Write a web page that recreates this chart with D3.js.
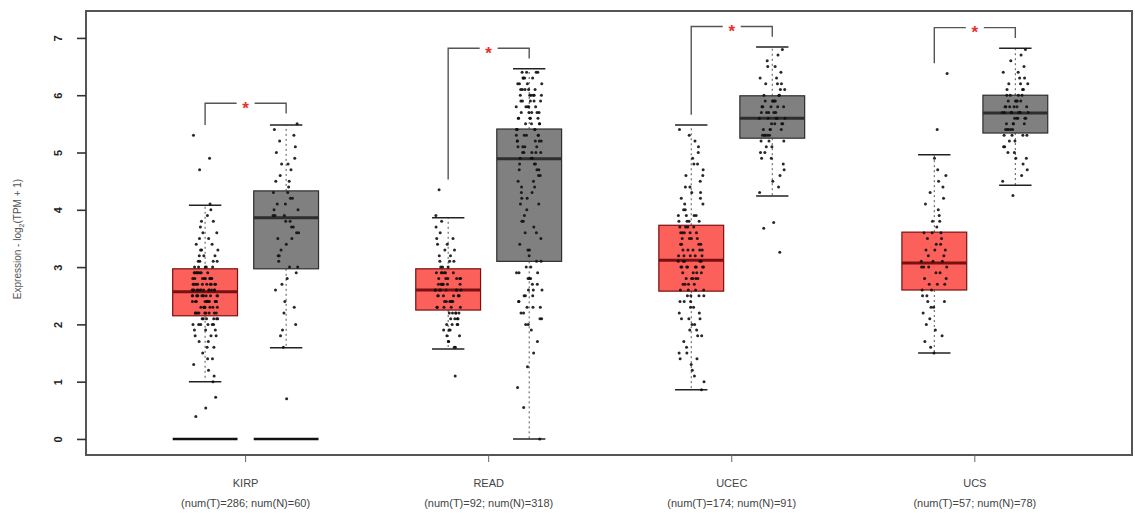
<!DOCTYPE html>
<html>
<head>
<meta charset="utf-8">
<title>expression boxplot</title>
<script src="https://cdn.jsdelivr.net/npm/d3@7"></script>
<style>
body{margin:0;background:#fff;}
text{font-family:"Liberation Sans",Arial,sans-serif;}
</style>
</head>
<body>
<script>
// cancer types and sample sizes
var cancers = ["KIRP","READ","UCEC","UCS"];
var numT = [286,92,174,57];
var numN = [60,318,91,78];
var yTicks = [0,1,2,3,4,5,6,7];
var sigMarks = ["*","*","*","*"];

// box stats: [lower whisker, Q1, median, Q3, upper whisker]
var tumorStats = [[1.0,2.15,2.57,2.97,4.08],[1.57,2.25,2.6,2.97,3.86],[0.86,2.58,3.12,3.73,5.48],[1.5,2.6,3.07,3.61,4.96]];
var normalStats = [[1.59,2.97,3.86,4.33,5.48],[0,3.1,4.89,5.41,6.46],[4.24,5.25,5.6,5.99,6.84],[4.43,5.34,5.69,6.0,6.82]];

// samples with zero expression (drawn as a floor strip)
var zeroT = [30,0,0,0];
var zeroN = [8,0,0,0];

// jittered samples (approx)
var kirpT = [2.6,2.4,3.1,2.2,2.8,1.9,2.5,3.3,2.1,2.7,2.9,2.3,3.6,2.0,2.6,1.7,2.4,3.0,2.2,2.8,3.8,2.5,1.4,2.7,2.1,3.2,2.6,2.3,2.9,1.8,2.5,3.4,2.0,2.7,2.4,1.2,3.0,2.6,2.2,2.8,4.0,2.3,2.5,1.6,2.9,3.1,2.1,2.6,2.4,3.5,2.7,1.9,2.2,2.8,2.5,3.3,2.0,2.6,1.1,2.3,2.9,2.7,3.7,2.4,2.1,2.5,3.0,1.5,2.8,2.6,2.2,3.2,2.4,1.8,2.7,2.9,2.3,3.9,2.5,2.0,2.6,1.3,2.8,3.1,2.4,2.2,2.7,3.4,2.1,2.5,1.7,2.9,2.6,2.3,3.0,2.8,2.0,3.6,2.4,2.6,1.0,2.5,2.7,2.2,3.2,1.9,2.8,2.4,2.6,3.3,2.1,2.9,2.5,1.6,2.3,2.7,4.1,2.6,2.2,3.0,2.4,1.4,2.8,2.5,3.5,2.0,2.7,2.3,2.9,1.8,2.6,3.1,2.4,2.2,3.8,2.5,5.3,4.9,4.7,0.73,0.54,0.39];
var kirpN = [3.9,4.5,3.2,5.1,4.1,2.6,3.7,4.8,3.0,4.3,3.5,5.3,2.2,4.0,3.8,4.6,2.9,3.4,5.0,4.2,1.9,3.6,4.4,3.1,4.9,2.4,3.9,4.7,3.3,5.5,2.8,4.1,3.7,1.6,4.3,3.0,5.2,2.0,3.8,4.5,3.5,2.7,4.0,4.8,3.2,2.3,3.9,5.4,4.2,1.8,3.6,0.7];
var readT = [2.6,2.3,2.9,2.1,2.7,3.4,2.5,1.9,2.8,2.4,3.1,2.2,2.6,3.7,2.0,2.9,2.5,1.7,2.7,3.3,2.4,2.8,2.1,3.0,2.6,1.8,2.3,3.5,2.7,2.5,2.2,3.2,1.6,2.9,2.6,2.4,3.8,2.0,2.8,2.5,3.1,2.3,2.7,1.9,3.6,2.6,2.4,2.9,2.2,3.0,2.5,1.7,2.8,2.1,3.3,2.6,2.4,2.7,2.0,3.4,2.3,2.9,2.5,1.8,3.1,2.6,2.2,2.8,3.9,2.4,2.7,2.1,3.0,2.5,1.6,2.9,2.3,3.2,2.6,2.8,2.0,3.5,2.4,2.7,2.2,1.9,4.35,1.1];
var readN = [5.8,4.9,6.1,5.3,2.6,5.6,4.4,6.3,5.0,3.0,5.9,4.7,2.3,5.4,6.0,3.8,5.2,2.8,6.2,4.8,5.5,2.1,5.7,4.2,6.4,3.3,5.1,5.9,2.5,4.6,5.6,6.0,3.6,5.3,2.9,6.3,5.0,4.1,5.8,2.4,5.4,6.1,3.1,4.9,5.7,2.7,6.2,5.2,4.5,2.2,5.5,6.0,3.4,5.0,5.8,2.6,4.3,6.4,5.3,2.0,5.6,4.8,3.9,5.9,2.8,6.1,5.1,4.0,5.4,2.3,6.3,5.7,3.2,4.7,5.2,2.5,6.0,5.5,4.4,2.9,5.8,6.2,3.7,5.0,2.1,5.6,4.9,6.4,3.0,5.3,2.7,5.9,4.6,6.1,2.4,5.4,5.1,3.5,6.0,2.2,5.7,4.2,5.2,2.6,6.3,5.5,3.3,4.8,5.8,2.0,6.2,5.0,3.8,5.6,2.8,4.5,6.0,5.3,2.3,5.9,4.1,3.1,6.4,5.4,2.5,5.1,4.7,5.7,2.9,6.1,3.6,5.2,1.9,4.3,1.7,1.26,0.9,1.5,0.55,0];
var ucecT = [3.1,2.7,3.6,4.2,2.3,3.4,1.9,3.0,4.6,2.8,3.3,2.5,3.8,1.5,3.2,4.0,2.9,3.5,2.1,4.8,3.0,2.6,3.7,1.7,3.1,4.4,2.4,3.9,2.8,3.3,1.2,3.6,5.1,2.7,3.2,2.0,4.1,3.4,2.5,3.0,1.4,3.8,4.7,2.9,3.1,2.2,3.5,5.4,2.6,3.7,1.8,4.3,3.0,2.8,3.3,1.0,3.9,2.4,4.5,3.2,2.6,3.6,1.6,3.0,4.9,2.9,3.4,2.1,3.8,5.2,2.7,3.1,1.3,4.2,3.5,2.5,3.0,2.3,4.0,3.3,1.9,3.7,2.8,4.6,3.2,2.0,3.5,5.0,2.6,3.9,1.1,3.1,4.3,2.4,3.6,2.9,1.5,4.1,3.3,2.7,3.8,5.3,2.2,3.0,4.4,0.86,2.8,3.4,1.8,3.7,2.5,4.8,3.2,2.1,3.6,1.4,3.0,3.9];
var ucecN = [5.6,5.9,5.3,6.2,5.5,4.9,5.8,6.5,5.2,5.7,6.0,4.6,5.4,6.3,5.6,5.1,6.8,5.9,5.3,4.4,5.7,6.1,5.5,5.0,6.4,5.8,5.2,5.6,6.6,4.8,5.9,5.4,6.0,5.3,4.3,5.7,6.2,5.5,5.1,5.8,6.7,5.6,4.7,5.9,5.3,6.1,5.4,5.0,6.3,5.7,5.5,4.5,5.8,6.0,5.2,5.6,6.5,5.9,5.4,4.9,5.7,6.2,5.3,5.8,3.78,3.68,3.26];
var ucsT = [3.1,2.7,3.5,4.2,2.3,3.0,3.8,2.1,4.6,2.9,3.3,1.8,3.6,2.6,4.0,3.2,2.4,4.9,2.8,3.4,1.6,3.0,3.7,2.5,4.4,3.1,2.2,3.9,2.7,3.3,1.9,4.1,3.5,2.6,3.0,4.7,2.4,3.2,1.5,3.6,2.9,4.3,2.8,3.4,2.0,3.1,3.8,2.5,4.5,3.0,2.7,3.3,1.7,3.6,2.3,6.38,5.4];
var ucsN = [5.7,6.0,5.4,6.3,5.6,5.1,5.9,6.6,5.3,5.8,6.1,4.8,5.5,6.4,5.7,5.2,6.8,5.9,5.4,4.6,5.7,6.2,5.6,5.0,6.5,5.8,5.3,5.7,6.0,4.9,5.9,5.5,6.1,5.4,4.5,5.7,6.2,5.6,5.2,5.8,6.7,5.7,4.7,5.9,5.4,6.1,5.5,5.1,6.3,5.8,5.6,4.9,5.8,6.0,5.3,5.7,6.4,5.9,5.5,5.0,5.7,6.2,5.4,5.8,5.6,6.0,5.3,4.25];

var tumorPts = [kirpT, readT, ucecT, ucsT];
var normalPts = [kirpN, readN, ucecN, ucsN];

var width = 1135, height = 513;
var mLeft = 86, mRight = 1132, mTop = 11, mBottom = 455;
var tumorFill = "#fb605b", tumorLine = "#7a1010";
var normalFill = "#808080", normalLine = "#2e2e2e";

var x = d3.scaleLinear().domain([-0.47, 12.44]).range([mLeft, mRight]);
var y = d3.scaleLinear().domain([-0.28, 7.47]).range([mBottom, mTop]);
var boxW = x(0.8) - x(0);

var svg = d3.select("body").append("svg")
	.attr("width", width)
	.attr("height", height);

// build the 8 boxes
var boxes = [];
cancers.forEach(function(c, g){
	boxes.push({pos: 1 + 3*g, s: tumorStats[g], pts: tumorPts[g], zeros: zeroT[g], fill: tumorFill, line: tumorLine});
	boxes.push({pos: 2 + 3*g, s: normalStats[g], pts: normalPts[g], zeros: zeroN[g], fill: normalFill, line: normalLine});
});

var gb = svg.append("g");
boxes.forEach(function(b){
	var cx = x(b.pos);
	// whiskers
	gb.append("line").attr("x1",cx).attr("x2",cx).attr("y1",y(b.s[3])).attr("y2",y(b.s[4]))
		.attr("stroke","#555").attr("stroke-width",1).attr("stroke-dasharray","2,3");
	gb.append("line").attr("x1",cx).attr("x2",cx).attr("y1",y(b.s[1])).attr("y2",y(b.s[0]))
		.attr("stroke","#555").attr("stroke-width",1).attr("stroke-dasharray","2,3");
	[b.s[0], b.s[4]].forEach(function(v){
		gb.append("line").attr("x1",cx-boxW/4).attr("x2",cx+boxW/4).attr("y1",y(v)).attr("y2",y(v))
			.attr("stroke","#222").attr("stroke-width",1.5);
	});
	gb.append("rect")
		.attr("x",cx-boxW/2).attr("width",boxW)
		.attr("y",y(b.s[3])).attr("height",y(b.s[1])-y(b.s[3]))
		.attr("fill",b.fill).attr("stroke",b.line).attr("stroke-width",1.2);
	gb.append("line").attr("x1",cx-boxW/2).attr("x2",cx+boxW/2).attr("y1",y(b.s[2])).attr("y2",y(b.s[2]))
		.attr("stroke",b.line).attr("stroke-width",3);
	// zero samples pile up into a strip
	if(b.zeros > 0){
		gb.append("line").attr("x1",cx-boxW/2).attr("x2",cx+boxW/2).attr("y1",y(0)).attr("y2",y(0))
			.attr("stroke","#111").attr("stroke-width",2.6);
	}
	gb.selectAll(null)
		.data(b.pts)
		.enter()
		.append("circle")
		.attr("cx",function(d,i){ return cx + (((i*0.618034) % 1) - 0.5)*26; })
		.attr("cy",function(d){ return y(d); })
		.attr("r",1.5)
		.attr("fill","#111")
		.attr("fill-opacity",0.9);
});

// significance brackets
cancers.forEach(function(c, g){
	var tMax = d3.max(tumorPts[g].concat([tumorStats[g][4]]));
	var nMax = d3.max(normalPts[g].concat([normalStats[g][4]]));
	var x1 = x(1 + 3*g), x2 = x(2 + 3*g), xm = (x1 + x2)/2;
	var yt = y(Math.max(tMax, nMax) + 0.36);
	var y1 = y(tMax + 0.18), y2 = y(nMax + 0.18);
	svg.append("path")
		.attr("d","M"+x1+","+y1+"V"+yt+"H"+(xm-9)+"M"+(xm+9)+","+yt+"H"+x2+"V"+y2)
		.attr("fill","none").attr("stroke","#555").attr("stroke-width",1.4);
	svg.append("text")
		.attr("x",xm).attr("y",yt).attr("dy","0.62em")
		.attr("text-anchor","middle")
		.attr("fill","#e8302a")
		.attr("font-size",17).attr("font-weight","bold")
		.text(sigMarks[g]);
});

// frame
svg.append("rect")
	.attr("x",mLeft).attr("y",mTop)
	.attr("width",mRight-mLeft).attr("height",mBottom-mTop)
	.attr("fill","none").attr("stroke","#555").attr("stroke-width",2);

// y axis
var ay = svg.append("g")
	.attr("transform","translate("+mLeft+",0)")
	.call(d3.axisLeft(y).tickValues(yTicks).tickSize(9).tickFormat(d3.format("d")));
ay.select(".domain").remove();
ay.selectAll("line").attr("stroke","#333").attr("stroke-width",1.6);
ay.selectAll("text")
	.attr("x",null).attr("dy","0.35em")
	.attr("text-anchor","middle")
	.attr("transform","translate(-28,0) rotate(-90)")
	.attr("fill","#222").attr("font-size",11).attr("font-weight","bold")
	.style("font-family","'Liberation Sans',Arial,sans-serif");

var ytitle = svg.append("text")
	.attr("transform","translate(21,"+((mTop+mBottom)/2+6)+") rotate(-90)")
	.attr("text-anchor","middle")
	.attr("fill","#555").attr("font-size",10);
ytitle.append("tspan").text("Expression - log");
ytitle.append("tspan").attr("font-size",7).attr("dy",3).text("2");
ytitle.append("tspan").attr("dy",-3).text("(TPM + 1)");

// x axis ticks and labels
var ax = svg.append("g");
cancers.forEach(function(c, g){
	var cx = x(1.5 + 3*g);
	ax.append("line").attr("x1",cx).attr("x2",cx).attr("y1",mBottom).attr("y2",mBottom+7)
		.attr("stroke","#666").attr("stroke-width",1);
	ax.append("text").attr("x",cx).attr("y",487).attr("text-anchor","middle")
		.attr("fill","#444").attr("font-size",11).text(c);
	ax.append("text").attr("x",cx).attr("y",507).attr("text-anchor","middle")
		.attr("fill","#444").attr("font-size",11)
		.text("(num(T)=" + numT[g] + "; num(N)=" + numN[g] + ")");
});
</script>
</body>
</html>
